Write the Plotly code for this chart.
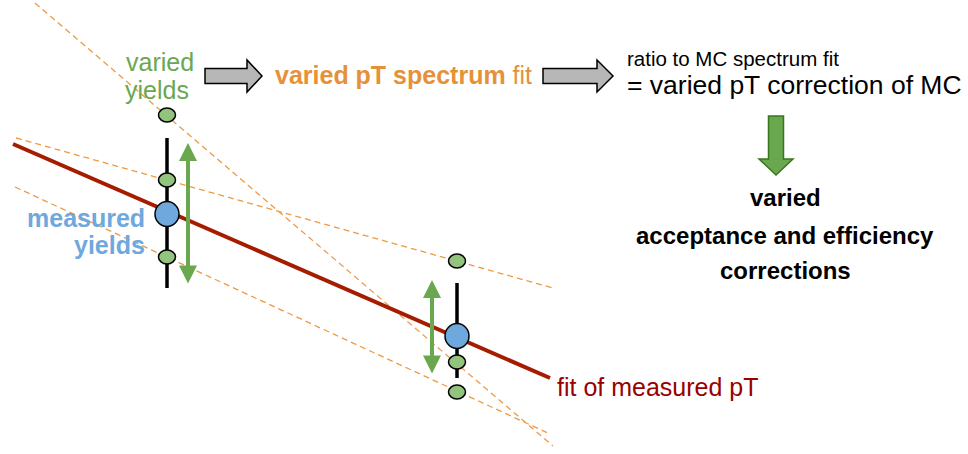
import plotly.graph_objects as go

# diagram coordinates (pixel-like, y grows downward)
# fit of measured pT
fit_x = [13, 550]
fit_y = [144, 378]

# varied pT spectrum fits (dashed)
varfit_steep_x = [35, 553]
varfit_steep_y = [3, 446]
varfit_flat_x = [16, 553]
varfit_flat_y = [138, 288]
varfit_low_x = [15, 550]
varfit_low_y = [187, 434]

# measured yields and their error bars
meas_x = [167, 457]
meas_y = [214, 336]
err_top = [138, 283]
err_bot = [288, 378]

# varied yields
varied_x = [167, 167, 167, 457, 457, 457]
varied_y = [115, 180, 257, 261, 362, 392]

# variation arrows (double headed)
vararrow_x = [188, 432]
vararrow_top = [143, 280]
vararrow_bot = [285, 375]

fig = go.Figure()

# dashed varied fits
for xs, ys in [(varfit_steep_x, varfit_steep_y),
               (varfit_flat_x, varfit_flat_y),
               (varfit_low_x, varfit_low_y)]:
    fig.add_trace(go.Scatter(x=xs, y=ys, mode='lines',
                             line=dict(color='#ec9a45', width=1.3, dash='6px,4px'),
                             hoverinfo='skip'))

# red fit line
fig.add_trace(go.Scatter(x=fit_x, y=fit_y, mode='lines',
                         line=dict(color='#a61c00', width=4),
                         hoverinfo='skip'))

# error bars
ex, ey = [], []
for x, t, b in zip(meas_x, err_top, err_bot):
    ex += [x, x, None]
    ey += [t, b, None]
fig.add_trace(go.Scatter(x=ex, y=ey, mode='lines',
                         line=dict(color='black', width=3.5),
                         hoverinfo='skip'))

shapes = []

# varied yields as small ellipses
for x, y in zip(varied_x, varied_y):
    shapes.append(dict(type='circle', xref='x', yref='y',
                       x0=x - 8.5, x1=x + 8.5, y0=y - 7, y1=y + 7,
                       fillcolor='#93c47d', line=dict(color='black', width=1.5)))

# measured yields as big circles
for x, y in zip(meas_x, meas_y):
    shapes.append(dict(type='circle', xref='x', yref='y',
                       x0=x - 12, x1=x + 12, y0=y - 12.5, y1=y + 12.5,
                       fillcolor='#6fa8dc', line=dict(color='black', width=1.5)))


def block_arrow_right(x0, xb, xt, yc, hb, hh):
    return ('M {a},{b1} L {c},{b1} L {c},{h1} L {t},{y} L {c},{h2} L {c},{b2} L {a},{b2} Z'
            .format(a=x0, c=xb, t=xt, y=yc, b1=yc - hb, b2=yc + hb,
                    h1=yc - hh, h2=yc + hh))


def block_arrow_down(xc, y0, yb, yt, hb, hh):
    return ('M {l},{a} L {l},{c} L {hl},{c} L {x},{t} L {hr},{c} L {r},{c} L {r},{a} Z'
            .format(x=xc, a=y0, c=yb, t=yt, l=xc - hb, r=xc + hb,
                    hl=xc - hh, hr=xc + hh))


shapes.append(dict(type='path', xref='x', yref='y',
                   path=block_arrow_right(205, 247, 262, 76, 7.5, 16),
                   fillcolor='#b7b7b7', line=dict(color='black', width=1.5)))
shapes.append(dict(type='path', xref='x', yref='y',
                   path=block_arrow_right(543, 597, 613, 76, 7.5, 16),
                   fillcolor='#b7b7b7', line=dict(color='black', width=1.5)))
shapes.append(dict(type='path', xref='x', yref='y',
                   path=block_arrow_down(776, 116, 159, 175, 7.5, 17),
                   fillcolor='#6aa84f', line=dict(color='#38761d', width=1.5)))

fig.update_layout(shapes=shapes)

# green double arrows
for x, t, b in zip(vararrow_x, vararrow_top, vararrow_bot):
    fig.add_annotation(x=x, y=t, ax=x, ay=b, xref='x', yref='y',
                       axref='x', ayref='y', text='', showarrow=True,
                       arrowhead=2, arrowside='end+start', arrowsize=0.9,
                       arrowwidth=4, arrowcolor='#6aa84f')

font = 'Liberation Sans, Arial, sans-serif'


def label(text, x, y, size, color, xanchor='center'):
    fig.add_annotation(x=x, y=y, xref='x', yref='y', text=text, showarrow=False,
                       xanchor=xanchor, yanchor='middle',
                       font=dict(family=font, size=size, color=color))


label('varied', 160, 62, 25, '#6aa84f')
label('yields', 157, 90, 25, '#6aa84f')
label('<b>measured</b>', 147, 218, 25, '#6fa8dc', 'right')
label('<b>yields</b>', 147, 245, 25, '#6fa8dc', 'right')
label('<b>varied pT spectrum</b> fit', 273, 75, 25, '#e69138', 'left')
label('ratio to MC spectrum fit', 625, 58, 20.5, 'black', 'left')
label('= varied pT correction of MC', 625, 85, 26.5, 'black', 'left')
label('<b>varied</b>', 785, 197, 24, 'black')
label('<b>acceptance and efficiency</b>', 785, 235, 24, 'black')
label('<b>corrections</b>', 785, 270, 24, 'black')
label('fit of measured pT', 555, 387, 25, '#990000', 'left')

fig.update_xaxes(range=[0, 968], visible=False)
fig.update_yaxes(range=[454, 0], visible=False)
fig.update_layout(width=968, height=454, margin=dict(l=0, r=0, t=0, b=0),
                  plot_bgcolor='white', paper_bgcolor='white', showlegend=False)

# page body has a default margin; drop it so the figure fills the window
fig.write_html('out.html', config={'displayModeBar': False},
               post_script="document.body.style.margin='0';")
